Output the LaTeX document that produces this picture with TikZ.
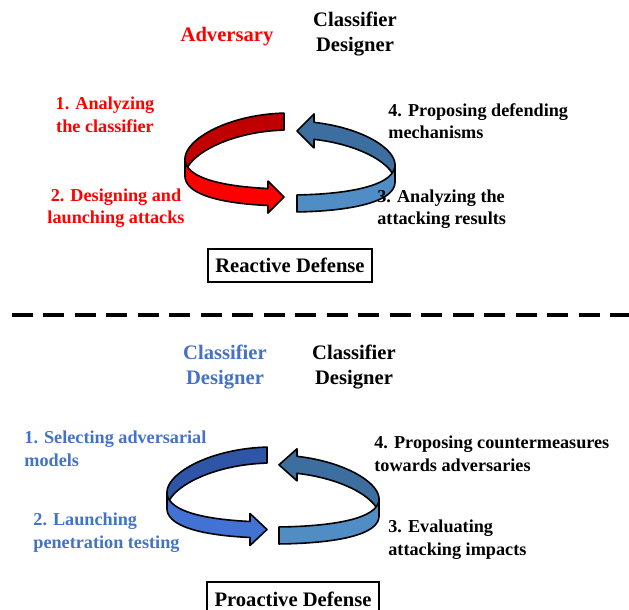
\documentclass[tikz,border=0pt]{standalone}
\usepackage{fontspec}
\setmainfont{Liberation Serif}
\usepackage{xcolor}
\definecolor{redback}{HTML}{C00000}
\definecolor{redfront}{HTML}{FF0000}
\definecolor{steelback}{HTML}{3C6E9F}
\definecolor{steelfront}{HTML}{508DC5}
\definecolor{navyback}{HTML}{2F55A6}
\definecolor{navyfront}{HTML}{4272D3}
\definecolor{txtblue}{HTML}{4472C4}

\begin{document}
\begin{tikzpicture}[x=0.5pt, y=-0.5pt,
    head/.style={inner sep=0pt, font=\fontsize{10.3}{12.5}\selectfont\bfseries},
    lbl/.style={inner sep=0pt, font=\fontsize{9.1}{11.3}\selectfont\bfseries},
    rim/.style={draw=black, line width=0.8pt, line join=round},
    boxlbl/.style={head, draw=black, line width=1pt}]
  \useasboundingbox (0,0) rectangle (629,610);

  % reactive defense ring
  \filldraw[rim, fill=redback, smooth, samples=50, variable=\t]
    plot[domain=266.7:180] ({290+105*cos(\t)},{151+38*sin(\t)+8*cos(\t)*cos(\t)})
    -- plot[domain=180:266.7] ({290+105*cos(\t)},{168+38*sin(\t)+8*cos(\t)*cos(\t)}) -- cycle;
  \filldraw[rim, fill=steelback, smooth, samples=50, variable=\t]
    plot[domain=283.2:360] ({290+105*cos(\t)},{158+37*sin(\t)+7*cos(\t)*cos(\t)})
    -- plot[domain=360:283.2] ({290+105*cos(\t)},{175+37*sin(\t)+7*cos(\t)*cos(\t)})
    -- (314,147.9) -- (297,130.9) -- (314,113.9) -- cycle;
  \filldraw[rim, fill=redfront, smooth, samples=50, variable=\t]
    plot[domain=180:102.1] ({290+105*cos(\t)},{151+38*sin(\t)+8*cos(\t)*cos(\t)})
    -- (268,181.1) -- (284,197.1) -- (268,213.1)
    -- plot[domain=102.1:180] ({290+105*cos(\t)},{168+38*sin(\t)+8*cos(\t)*cos(\t)}) -- cycle;
  \filldraw[rim, fill=steelfront, smooth, samples=50, variable=\t]
    plot[domain=0:86.2] ({290+105*cos(\t)},{158+37*sin(\t)+7*cos(\t)*cos(\t)})
    -- plot[domain=86.2:0] ({290+105*cos(\t)},{175+37*sin(\t)+7*cos(\t)*cos(\t)}) -- cycle;

  \node[head, text=red] (adv) at (227,37) {Adversary};
  \node[head, align=center] (des) at (355,34.5) {Classifier\\Designer};
  \node[lbl, text=red, align=center] (analyze) at (105,115) {1. Analyzing\\the classifier};
  \node[lbl, text=red, align=center] (attack) at (116,208) {2. Designing and\\launching attacks};
  \node[lbl, align=left, anchor=west] (propose) at (388,121) {4. Proposing defending\\mechanisms};
  \node[lbl, align=left, anchor=west] (results) at (377,209) {3. Analyzing the\\attacking results};
  \node[boxlbl, minimum width=82pt, minimum height=16.5pt] (reactive) at (290,265.5) {Reactive Defense};

  % separator
  \coordinate (sepL) at (12,315);
  \coordinate (sepR) at (629,315);
  \draw[line width=1.8pt, dash pattern=on 10.5pt off 5.25pt] (sepL) -- (sepR);

  % proactive defense ring
  \filldraw[rim, fill=navyback, smooth, samples=50, variable=\t]
    plot[domain=266.76:180] ({273+106*cos(\t)},{484.5+37.5*sin(\t)+8*cos(\t)*cos(\t)})
    -- plot[domain=180:266.76] ({273+106*cos(\t)},{500.5+37.5*sin(\t)+8*cos(\t)*cos(\t)}) -- cycle;
  \filldraw[rim, fill=steelback, smooth, samples=50, variable=\t]
    plot[domain=283.09:360] ({273+106*cos(\t)},{491+36*sin(\t)+8*cos(\t)*cos(\t)})
    -- plot[domain=360:283.09] ({273+106*cos(\t)},{508+36*sin(\t)+8*cos(\t)*cos(\t)})
    -- (297,480.85) -- (279,464.85) -- (297,448.85) -- cycle;
  \filldraw[rim, fill=navyfront, smooth, samples=50, variable=\t]
    plot[domain=180:102.5] ({273+106*cos(\t)},{484.5+37.5*sin(\t)+8*cos(\t)*cos(\t)})
    -- (250,513.5) -- (267,529.5) -- (250,545.5)
    -- plot[domain=102.5:180] ({273+106*cos(\t)},{500.5+37.5*sin(\t)+8*cos(\t)*cos(\t)}) -- cycle;
  \filldraw[rim, fill=steelfront, smooth, samples=50, variable=\t]
    plot[domain=0:86.76] ({273+106*cos(\t)},{491+36*sin(\t)+8*cos(\t)*cos(\t)})
    -- plot[domain=86.76:0] ({273+106*cos(\t)},{508+36*sin(\t)+8*cos(\t)*cos(\t)}) -- cycle;

  \node[head, text=txtblue, align=center] (desA) at (225,367.5) {Classifier\\Designer};
  \node[head, align=center] (desB) at (354,367.5) {Classifier\\Designer};
  \node[lbl, text=txtblue, align=left, anchor=west] (select) at (24,448.5) {1. Selecting adversarial\\models};
  \node[lbl, text=txtblue, align=left, anchor=west] (launch) at (33,532.5) {2. Launching\\penetration testing};
  \node[lbl, align=left, anchor=west] (counter) at (374,454) {4. Proposing countermeasures\\towards adversaries};
  \node[lbl, align=left, anchor=west] (impact) at (388,539.5) {3. Evaluating\\attacking impacts};
  \node[boxlbl, minimum width=86pt, minimum height=16.5pt] (proactive) at (293,599) {Proactive Defense};
\end{tikzpicture}
\end{document}
